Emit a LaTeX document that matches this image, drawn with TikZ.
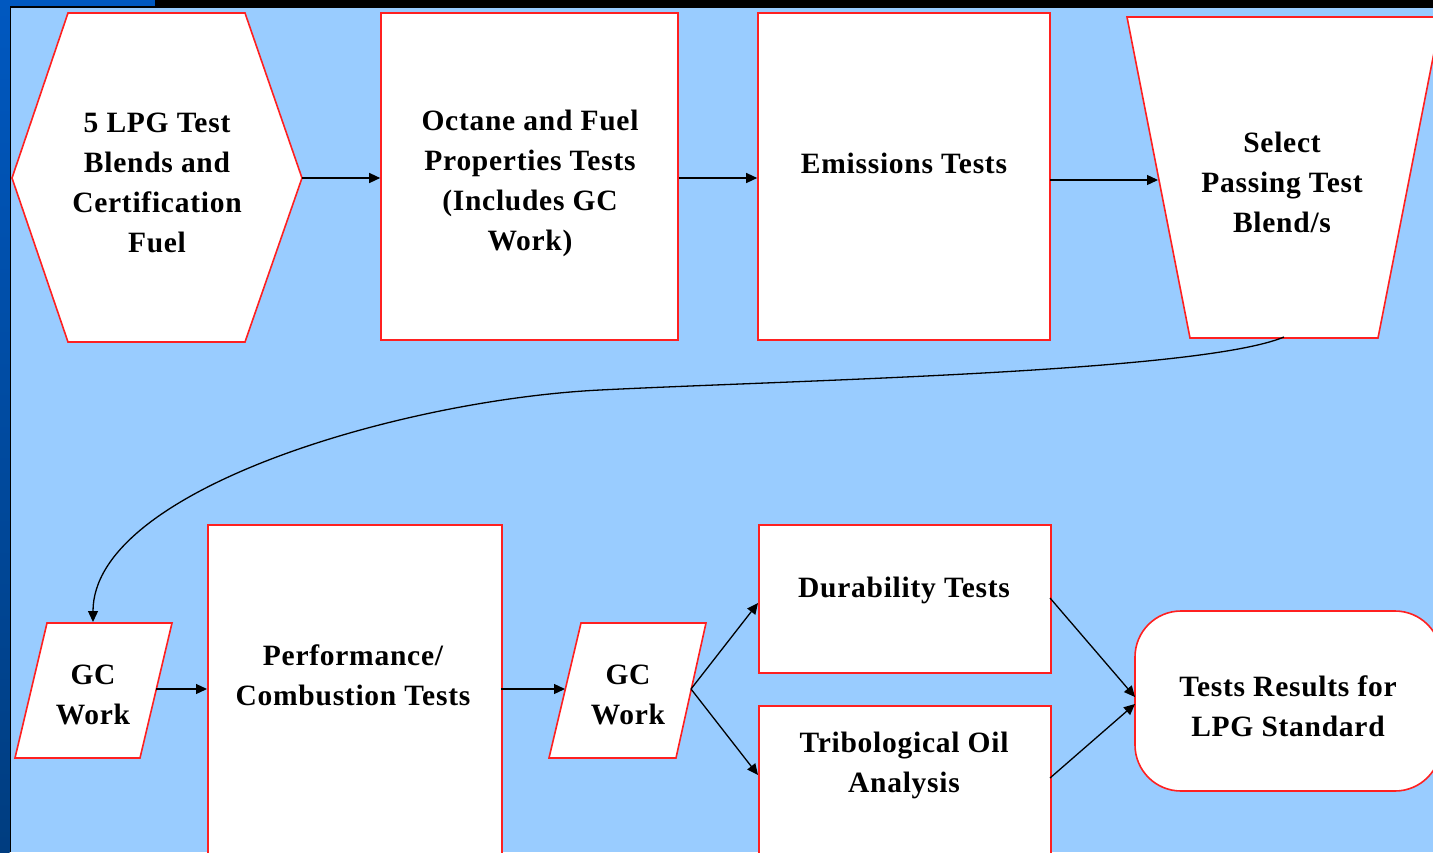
\documentclass[tikz,border=0pt]{standalone}
\usepackage{fontspec}
\setmainfont[LetterSpace=2.5]{Liberation Serif}
\usetikzlibrary{arrows.meta}
\definecolor{bg}{HTML}{99CCFF}
\definecolor{edge}{HTML}{FF2020}
\definecolor{barblue}{HTML}{0058C0}
\definecolor{bardark}{HTML}{003D80}
\begin{document}
\begin{tikzpicture}[x=1pt,y=-1pt,
  shp/.style={draw=edge, line width=1.6pt, fill=white},
  box/.style={shp, rectangle, inner sep=0pt},
  lbl/.style={font=\bfseries\fontsize{29.5}{40}\selectfont, align=center, text=black, inner sep=0pt},
  conn/.style={draw=black, line width=1.3pt, -{Triangle[length=11pt,width=10pt]}}]
\clip (0,0) rectangle (1433,852);
\fill[bg] (0,0) rectangle (1433,852);
% frame strips
\fill[black] (0,0) rectangle (1433,7.5);
\fill[barblue] (0,0) rectangle (155,6);
\shade[top color=barblue, bottom color=bardark] (0,0) rectangle (9.5,852);
\fill[black] (9.5,6) rectangle (11,852);

% hexagon
\draw[shp] (68,13) -- (245,13) -- (302,178) -- (245,342) -- (68,342) -- (12,178) -- cycle;
\coordinate (hexR) at (302,178);
\node[lbl] (hexT) at (157,183) {5 LPG Test\\Blends and\\Certification\\Fuel};

% octane
\node[box, minimum width=297pt, minimum height=327pt] (oct) at (529.5,176.5) {};
\node[lbl] (octT) at (530,183) {Octane and Fuel\\Properties Tests\\(Includes GC\\Work)};

% emissions
\node[box, minimum width=292pt, minimum height=327pt] (emi) at (904,176.5) {};
\node[lbl] (emiT) at (904,163) {Emissions Tests};
\coordinate (emiR) at (1050,180);

% select trapezoid
\draw[shp] (1127,17) -- (1441,17) -- (1378,338) -- (1190,338) -- cycle;
\coordinate (selL) at (1158,180);
\coordinate (selB) at (1284,337);
\node[lbl] (selT) at (1282,182) {Select\\Passing Test\\Blend/s};

% GC work 1
\draw[shp] (47,623) -- (172,623) -- (140,758) -- (15,758) -- cycle;
\coordinate (gc1N) at (93,622);
\coordinate (gc1R) at (156,689);
\node[lbl] (gc1T) at (93,695) {GC\\Work};

% performance
\node[box, minimum width=294pt, minimum height=360pt, anchor=north west] (perf) at (207,524) {};
\coordinate (perfL) at (207,689);
\coordinate (perfR) at (501,689);
\node[lbl] (perfT) at (353,675) {Performance/\\Combustion Tests};

% GC work 2
\draw[shp] (581,623) -- (706,623) -- (676,758) -- (549,758) -- cycle;
\coordinate (gc2L) at (565,689);
\coordinate (gc2R) at (691,689);
\node[lbl] (gc2T) at (628,695) {GC\\Work};

% durability
\node[box, minimum width=292pt, minimum height=148pt, anchor=north west] (dur) at (758,524) {};
\node[lbl] (durT) at (904,590) {Durability Tests};
\coordinate (durL) at (758,603);
\coordinate (durR) at (1050,598);

% tribological
\node[box, minimum width=292pt, minimum height=200pt, anchor=north west] (tri) at (758,705) {};
\node[lbl] (triT) at (904,765) {Tribological Oil\\Analysis};
\coordinate (triL) at (758,775);
\coordinate (triR) at (1050,778);

% results
\draw[shp, rounded corners=46pt] (1135,611) rectangle (1441,791);
\node[lbl] (resT) at (1288,706) {Tests Results for\\LPG Standard};
\coordinate (resA) at (1135,697);
\coordinate (resB) at (1135,704);

% connectors
\coordinate (bend) at (600,390);
\draw[conn] (hexR) -- (oct.west |- hexR);
\draw[conn] (oct.east |- hexR) -- (emi.west |- hexR);
\draw[conn] (emiR) -- (selL);
\draw[conn] (selB) .. controls (1200,372) and (800,380) .. (bend)
                   .. controls (400,400) and (93,490) .. (gc1N);
\draw[conn] (gc1R) -- (perfL);
\draw[conn] (perfR) -- (gc2L);
\draw[conn] (gc2R) -- (durL);
\draw[conn] (gc2R) -- (triL);
\draw[conn] (durR) -- (resA);
\draw[conn] (triR) -- (resB);
\end{tikzpicture}
\end{document}
